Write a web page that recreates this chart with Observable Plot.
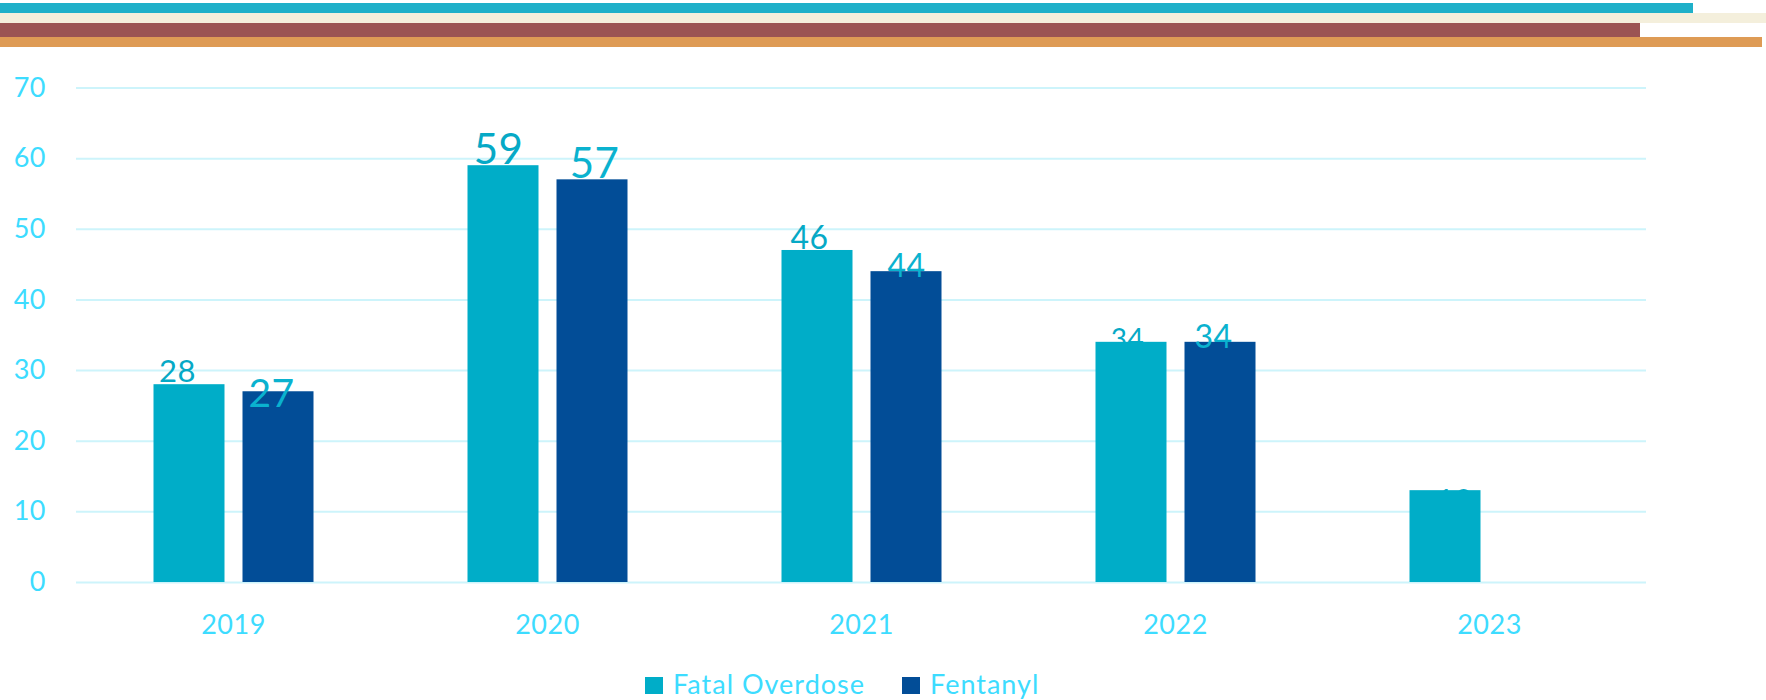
<!DOCTYPE html>
<html>
<head>
<meta charset="utf-8">
<script src="https://cdn.jsdelivr.net/npm/d3@7"></script>
<script src="https://cdn.jsdelivr.net/npm/@observablehq/plot@0.6"></script>
<style>
  html, body { margin: 0; padding: 0; background: #ffffff; }
  #wrap { position: relative; width: 1766px; height: 700px; overflow: hidden; font-family: Lato, "Open Sans", sans-serif; }
  .stripe { position: absolute; left: 0; z-index: 2; }
  #chart { position: absolute; left: 0; top: 0; }
  #legend { position: absolute; left: 645px; top: 669px; display: flex; align-items: center; font-size: 27px; letter-spacing: 1px; color: #3ddcff; line-height: 30px; }
  #legend .item { display: flex; align-items: center; margin-right: 37px; }
  #legend .sw { width: 18px; height: 17px; margin-right: 10px; margin-top: 2px; }
</style>
</head>
<body>
<div id="wrap">
  <div class="stripe" style="top:3px;height:10px;width:1693px;background:#1fb0c9"></div>
  <div class="stripe" style="top:13px;height:10px;width:1766px;background:#f4efdc"></div>
  <div class="stripe" style="top:23px;height:14px;width:1640px;background:#9b5453"></div>
  <div class="stripe" style="top:37px;height:10px;width:1762px;background:#de9b55"></div>
  <div id="chart"></div>
  <div id="legend"></div>
</div>
<script>
// ---- data ----
const years = ["2019", "2020", "2021", "2022", "2023"];
const seriesNames = ["Fatal Overdose", "Fentanyl"];
const fatalOverdose = [28, 59, 47, 34, 13];
const fentanyl = [27, 57, 44, 34, null];
const fatalLabels = ["28", "59", "46", "34", "13"];
const fentanylLabels = ["27", "57", "44", "34", null];
const yTicks = [0, 10, 20, 30, 40, 50, 60, 70];

// ---- styles (label font sizes and small nudges) ----
const colors = ["#00adc8", "#024d97"];
const fatalLabelSizes = [31, 42, 32, 28, 30];
const fentanylLabelSizes = [39, 42, 32, 32, null];
const fatalLabelDx = [-12, -5, -8, -4, 9];
const fatalLabelDy = [-3, -2, -1, 7, 20];
const fentanylLabelDx = [-7, 2, 0, -7, null];
const fentanylLabelDy = [15, -2, 5, 6, null];

const rows = [];
const fatalRows = [];
const fentRows = [];
years.forEach((y, i) => {
  const a = {year: y, series: seriesNames[0], value: fatalOverdose[i], label: fatalLabels[i], size: fatalLabelSizes[i], dx: fatalLabelDx[i], dy: fatalLabelDy[i]};
  rows.push(a); fatalRows.push(a);
  if (fentanyl[i] != null) {
    const b = {year: y, series: seriesNames[1], value: fentanyl[i], label: fentanylLabels[i], size: fentanylLabelSizes[i], dx: fentanylLabelDx[i], dy: fentanylLabelDy[i]};
    rows.push(b); fentRows.push(b);
  }
});

const labelMark = (d, fill) => Plot.text([d], {fx: "year", x: "series", y: "value", text: "label", fontSize: "size", fill, lineAnchor: "bottom", dx: d.dx, dy: d.dy});

const plot = Plot.plot({
  width: 1766,
  height: 650,
  marginTop: 87.5,
  marginBottom: 68,
  marginLeft: 75.5,
  marginRight: 120,
  style: {fontFamily: "Lato, 'Open Sans', sans-serif", fontSize: "27px", color: "#3ddcff", background: "transparent", overflow: "visible", letterSpacing: "0.5px"},
  fx: {domain: years, padding: 0, tickSize: 0, tickPadding: 32, label: null},
  x: {domain: seriesNames, paddingInner: 0.207, paddingOuter: 0.858, axis: null},
  y: {domain: [0, 70], ticks: yTicks, tickSize: 0, tickPadding: 30.5, label: null},
  color: {domain: seriesNames, range: colors},
  marks: [
    Plot.gridY(yTicks, {stroke: "#cdf4fb", strokeOpacity: 1, strokeWidth: 2}),
    ...fatalRows.map(d => labelMark(d, "#06a9c6")),
    Plot.barY(rows, {fx: "year", x: "series", y: "value", fill: "series"}),
    ...fentRows.map(d => labelMark(d, "#0ab2cf"))
  ]
});
document.getElementById("chart").appendChild(plot);

const legend = document.getElementById("legend");
seriesNames.forEach((s, i) => {
  const item = document.createElement("div");
  item.className = "item";
  const sw = document.createElement("div");
  sw.className = "sw";
  sw.style.background = colors[i];
  const t = document.createElement("span");
  t.textContent = s;
  item.appendChild(sw);
  item.appendChild(t);
  legend.appendChild(item);
});
</script>
</body>
</html>
